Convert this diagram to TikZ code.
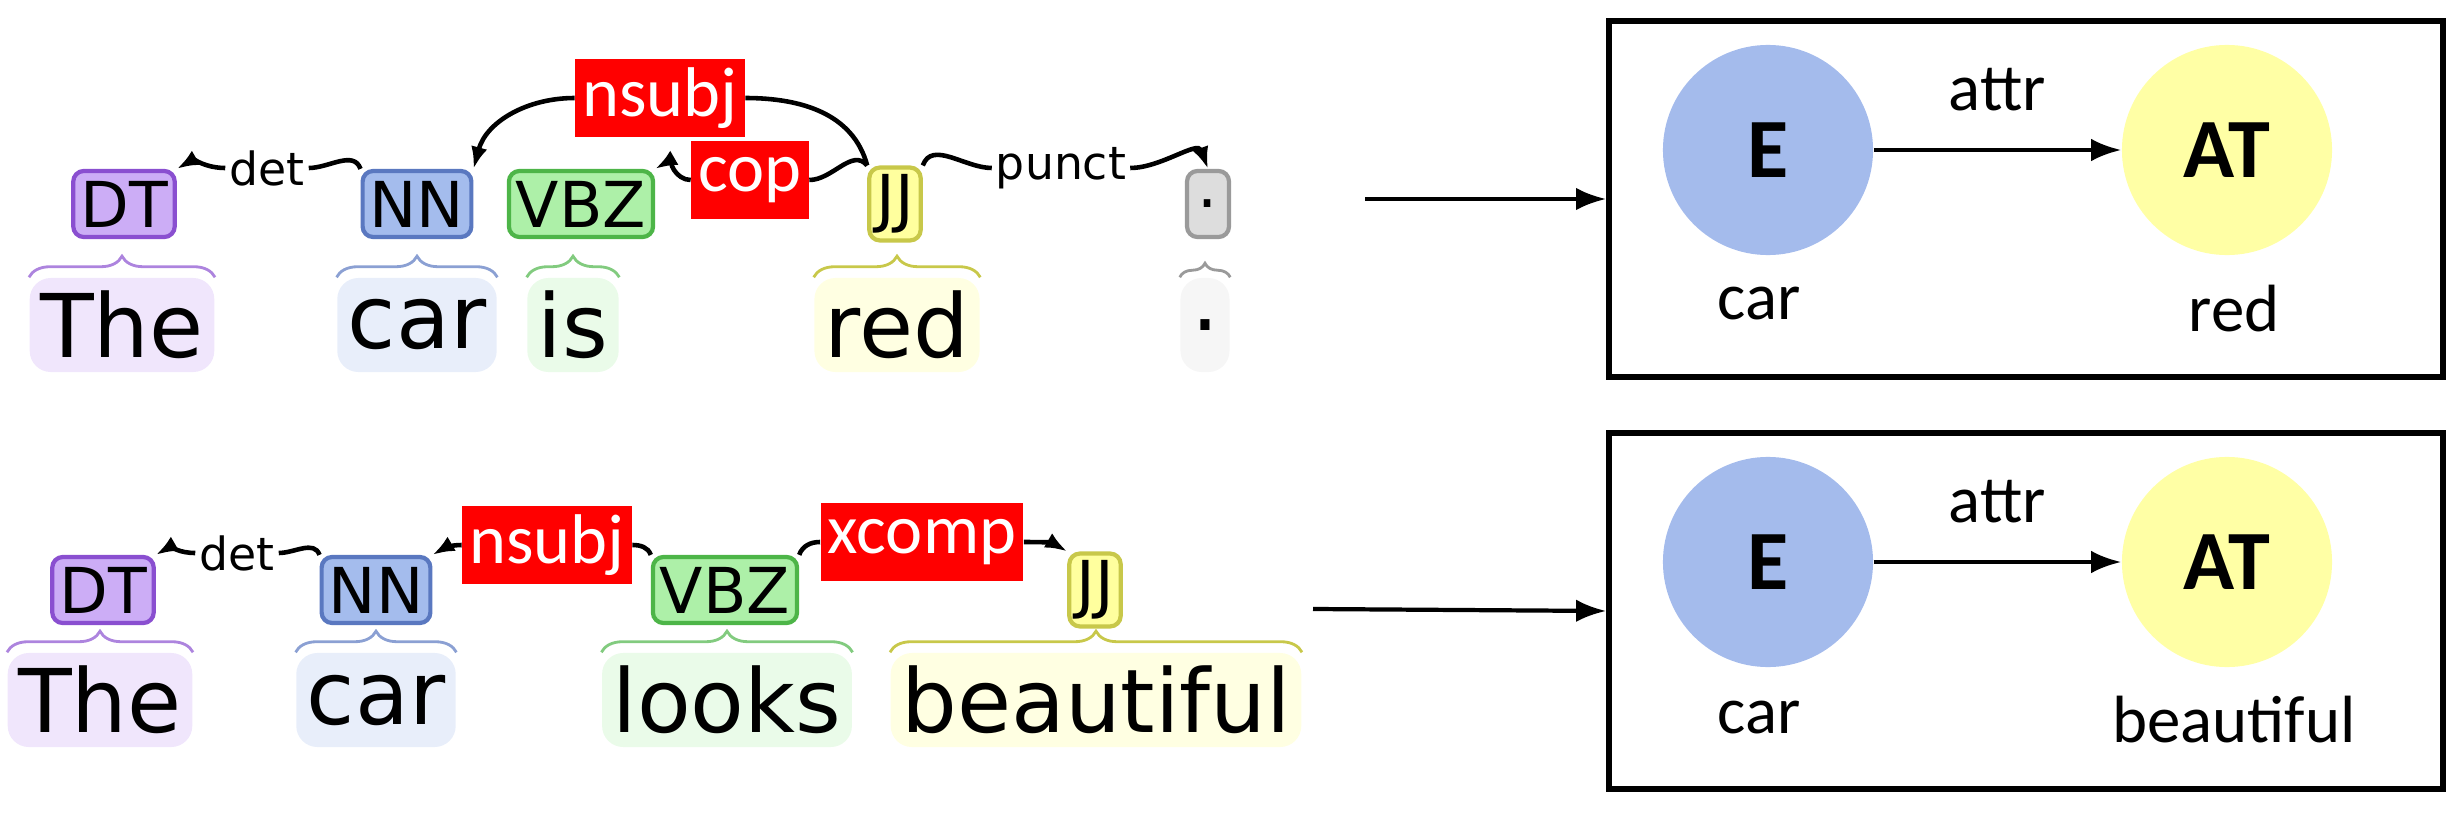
\documentclass[tikz,border=0pt]{standalone}
\usepackage{fontspec}
\newfontfamily\bratfont{DejaVu Sans}
\newfontfamily\califont{Carlito}
\usetikzlibrary{arrows.meta, positioning, decorations.pathreplacing}
\definecolor{dtfill}{HTML}{CCADF6}
\definecolor{dtline}{HTML}{8A4FD0}
\definecolor{nnfill}{HTML}{A4BCED}
\definecolor{nnline}{HTML}{5A78C0}
\definecolor{vbfill}{HTML}{ADF0A8}
\definecolor{vbline}{HTML}{4DB548}
\definecolor{jjfill}{HTML}{FFFF9E}
\definecolor{jjline}{HTML}{C8C84A}
\definecolor{dotfill}{HTML}{DDDDDD}
\definecolor{dotline}{HTML}{9A9A9A}
\definecolor{entfill}{HTML}{A4BBEC}
\definecolor{attfill}{HTML}{FFFFA5}
\begin{document}
\begin{tikzpicture}[
    x=0.01cm, y=-0.01cm,
    tag/.style={rectangle, draw, rounded corners=3pt, line width=1.2pt, minimum height=0.66cm, inner sep=2pt, font=\bratfont\fontsize{18}{20}\selectfont},
    word/.style={rectangle, rounded corners=6pt, inner sep=3pt, minimum height=0.94cm, font=\bratfont\fontsize{25}{28}\selectfont},
    rel/.style={inner sep=1pt, font=\bratfont\fontsize{13}{15}\selectfont},
    hot/.style={fill=red, text=white, inner sep=2pt, minimum height=0.78cm, font=\califont\fontsize{20}{22}\selectfont},
    arc/.style={line width=1.3pt},
    arcarrow/.style={line width=1.3pt, -{Latex[length=2.2mm]}},
    brace/.style={decorate, decoration={brace, amplitude=6pt}, line width=0.8pt},
    frame/.style={rectangle, draw, line width=1.8pt, minimum width=8.33cm, minimum height=3.56cm},
    ent/.style={circle, minimum size=2.1cm, font=\califont\bfseries\fontsize{24}{26}\selectfont},
    lab/.style={font=\califont\fontsize{19}{21}\selectfont},
    flow/.style={line width=1.2pt, -{Latex[length=3mm]}}
  ]
    \useasboundingbox (0,0) rectangle (2456,818);
    % Sentence 1
    \node[word, fill=dtfill!30] (thea) at (122,325) {The};
    \node[word, fill=nnfill!25] (cara) at (417,325) {car};
    \node[word, fill=vbfill!25] (isa) at (573,325) {is};
    \node[word, fill=jjfill!30] (reda) at (897,325) {red};
    \node[word, fill=dotfill!25] (stopa) at (1205,325) {.};
    \node[tag, fill=dtfill, draw=dtline] (dta) at (124,204) {DT};
    \node[tag, fill=nnfill, draw=nnline] (nna) at (417,204) {NN};
    \node[tag, fill=vbfill, draw=vbline] (vbza) at (581,204) {VBZ};
    \node[tag, fill=jjfill, draw=jjline] (jja) at (895,204) {JJ};
    \node[tag, fill=dotfill, draw=dotline, minimum width=0.42cm] (dota) at (1208,204) {.};
    \draw[brace, dtline!70] (thea.north west) -- (thea.north east);
    \draw[brace, nnline!70] (cara.north west) -- (cara.north east);
    \draw[brace, vbline!70] (isa.north west) -- (isa.north east);
    \draw[brace, jjline] (reda.north west) -- (reda.north east);
    \draw[brace, dotline, decoration={amplitude=4pt}] (stopa.north west) -- (stopa.north east);
    \node[rel] (deta) at (267,168) {det};
    \node[rel] (puncta) at (1061,168) {punct};
    \node[hot] (nsubja) at (660,98) {nsubj};
    \node[hot] (copa) at (750,180) {cop};
    \draw[arc] (nna.north west) to[out=110,in=0] (deta.east);
    \draw[arcarrow] (deta.west) to[out=180,in=30] (dta.north east);
    \draw[arc] (jja.north west) to[out=105,in=0] (nsubja.east);
    \draw[arcarrow] (nsubja.west) to[out=180,in=75] (nna.north east);
    \draw[arc] (jja.north west) to[out=130,in=0] (copa.east);
    \draw[arcarrow] (copa.west) to[out=180,in=30] (vbza.north east);
    \draw[arc] (jja.north east) to[out=70,in=180] (puncta.west);
    \draw[arcarrow] (puncta.east) to[out=0,in=110] (dota.north);
    % Sentence 2
    \node[word, fill=dtfill!30] (theb) at (100,700) {The};
    \node[word, fill=nnfill!25] (carb) at (376,700) {car};
    \node[word, fill=vbfill!25] (looksb) at (727,700) {looks};
    \node[word, fill=jjfill!30] (beautb) at (1096,700) {beautiful};
    \node[tag, fill=dtfill, draw=dtline] (dtb) at (103,590) {DT};
    \node[tag, fill=nnfill, draw=nnline] (nnb) at (376,590) {NN};
    \node[tag, fill=vbfill, draw=vbline] (vbzb) at (725,590) {VBZ};
    \node[tag, fill=jjfill, draw=jjline] (jjb) at (1095,590) {JJ};
    \draw[brace, dtline!70] (theb.north west) -- (theb.north east);
    \draw[brace, nnline!70] (carb.north west) -- (carb.north east);
    \draw[brace, vbline!70] (looksb.north west) -- (looksb.north east);
    \draw[brace, jjline] (beautb.north west) -- (beautb.north east);
    \node[rel] (detb) at (237,553) {det};
    \node[hot] (nsubjb) at (547,545) {nsubj};
    \node[hot] (xcompb) at (922,542) {xcomp};
    \draw[arc] (nnb.north west) to[out=110,in=0] (detb.east);
    \draw[arcarrow] (detb.west) to[out=180,in=30] (dtb.north east);
    \draw[arc] (vbzb.north west) to[out=110,in=0] (nsubjb.east);
    \draw[arcarrow] (nsubjb.west) to[out=180,in=30] (nnb.north east);
    \draw[arc] (vbzb.north east) to[out=70,in=180] (xcompb.west);
    \draw[arcarrow] (xcompb.east) to[out=0,in=150] (jjb.north west);
    % Graphs
    \node[frame] (boxa) at (2026,199) {};
    \node[frame] (boxb) at (2026,611) {};
    \coordinate (srca) at (1365,199);
    \coordinate (srcb) at (1313,609);
    \draw[flow] (srca) -- (boxa.west);
    \draw[flow] (srcb) -- (boxb.west);
    \node[ent, fill=entfill] (enta) at (1768,150) {E};
    \node[ent, fill=attfill] (atta) at (2227,150) {AT};
    \draw[flow] (enta) -- (atta) node[midway, above=0.25cm, lab] (attra) {attr};
    \node[lab] (cartxta) at (1759,304) {car};
    \node[lab] (redtxta) at (2234,309) {red};
    \node[ent, fill=entfill] (entb) at (1768,562) {E};
    \node[ent, fill=attfill] (attb) at (2227,562) {AT};
    \draw[flow] (entb) -- (attb) node[midway, above=0.25cm, lab] (attrb) {attr};
    \node[lab] (cartxtb) at (1759,718) {car};
    \node[lab] (beauttxtb) at (2234,720) {beautiful};
  \end{tikzpicture}
\end{document}
